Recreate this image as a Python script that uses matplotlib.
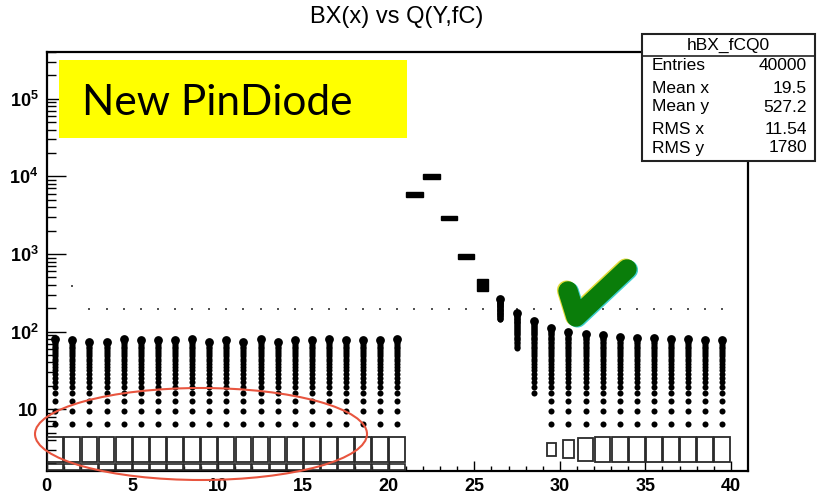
import numpy as np
import matplotlib.pyplot as plt
import matplotlib.patheffects as pe
from matplotlib.patches import Ellipse, Rectangle
from matplotlib.lines import Line2D
from matplotlib.ticker import FixedLocator, NullFormatter

plt.rcParams['font.family'] = ['Liberation Sans', 'DejaVu Sans']
plt.rcParams['mathtext.fontset'] = 'custom'
plt.rcParams['mathtext.rm'] = 'Liberation Sans'
plt.rcParams['mathtext.bf'] = 'Liberation Sans:bold'

# y binning of the charge axis (fC)
q_bin = 3.2

# columns of occupied charge bins: BX bin centre, lowest and highest charge (fC)
col_bx = [0.5, 1.5, 2.5, 3.5, 4.5, 5.5, 6.5, 7.5, 8.5, 9.5, 10.5,
          11.5, 12.5, 13.5, 14.5, 15.5, 16.5, 17.5, 18.5, 19.5, 20.5,
          26.5, 27.5, 28.5,
          29.5, 30.5, 31.5, 32.5, 33.5, 34.5, 35.5, 36.5, 37.5, 38.5, 39.5]
col_qlo = [6.4, 6.4, 6.4, 6.4, 6.4, 6.4, 6.4, 6.4, 6.4, 6.4, 6.4,
           6.4, 6.4, 6.4, 6.4, 6.4, 6.4, 6.4, 6.4, 6.4, 6.4,
           144, 60, 16,
           6.4, 6.4, 6.4, 6.4, 6.4, 6.4, 6.4, 6.4, 6.4, 6.4, 6.4]
col_qhi = [80, 77, 74, 74, 80, 77, 77, 77, 80, 74, 77,
           74, 80, 74, 77, 77, 80, 77, 77, 77, 80,
           266, 176, 138,
           112, 99, 92, 89, 86, 83, 83, 80, 80, 78, 78]

# lowest charge bin (pedestal) drawn as open boxes, relative content
box_bx = [0.5, 1.5, 2.5, 3.5, 4.5, 5.5, 6.5, 7.5, 8.5, 9.5, 10.5,
          11.5, 12.5, 13.5, 14.5, 15.5, 16.5, 17.5, 18.5, 19.5, 20.5,
          29.5, 30.5, 31.5, 32.5, 33.5, 34.5, 35.5, 36.5, 37.5, 38.5, 39.5]
box_fill = [1.0] * 21 + [0.55, 0.72, 0.95, 1.0, 1.0, 1.0, 1.0, 1.0, 1.0, 1.0, 1.0]
floor_bx = [0.5, 1.5, 2.5, 3.5, 4.5, 5.5, 6.5, 7.5, 8.5, 9.5, 10.5,
            11.5, 12.5, 13.5, 14.5, 15.5, 16.5, 17.5, 18.5, 19.5, 20.5]

# signal pulse: charge range of the filled cells per BX
peak_bx = [21.5, 22.5, 23.5, 24.5, 25.5]
peak_lo = [5400, 9200, 2750, 860, 330]
peak_hi = [6250, 10700, 3090, 990, 470]
peak_fill = [1.0, 1.0, 1.0, 1.0, 0.68]

# single entries
stray_bx = [1.5] + [2.5, 3.5, 4.5, 5.5, 6.5, 7.5, 8.5, 9.5, 10.5, 11.5, 12.5,
                    13.5, 14.5, 15.5, 16.5, 17.5, 18.5, 19.5, 20.5, 21.5, 22.5,
                    23.5, 24.5, 25.5, 27.5, 28.5, 29.5, 30.5, 31.5, 32.5, 33.5,
                    34.5, 35.5, 36.5, 37.5, 38.5, 39.5]
stray_q = [390] + [197] * 37

stats_rows = [("Entries", "40000"), ("Mean x", "19.5"), ("Mean y", "527.2"),
              ("RMS x", "11.54"), ("RMS y", "1780")]

W, H = 817, 496
fig = plt.figure(figsize=(W / 100, H / 100), dpi=100)
ax = fig.add_axes([46.7 / W, 1 - 471 / H, (748 - 46.7) / W, (471 - 52) / H])
ax.set_yscale('log')
ax.set_xlim(0, 41)
ax.set_ylim(1.6, 4.0e5)

# dotted columns of occupied bins
for x, qlo, qhi in zip(col_bx, col_qlo, col_qhi):
    k = np.arange(round(qlo / q_bin), round(qhi / q_bin) + 1)
    q = k * q_bin
    ax.scatter(np.full(len(q), x), q, s=19, marker='o', color='black', lw=0, zorder=3)
    ax.scatter([x], [q[-1]], s=40, marker='o', color='black', lw=0, zorder=3)

# pedestal boxes
c = np.log10(3.03)
for x, f in zip(box_bx, box_fill):
    lo, hi = 10 ** (c - 0.161 * f), 10 ** (c + 0.161 * f)
    ax.bar(x, hi - lo, bottom=lo, width=0.92 * f, fill=False,
           edgecolor='#2a2a2a', linewidth=1.3, zorder=3)
ax.bar(floor_bx, [1.97 - 1.66] * len(floor_bx), bottom=1.66, width=0.94,
       fill=False, edgecolor='#2a2a2a', linewidth=1.2, zorder=3)

# pulse cells
for x, lo, hi, f in zip(peak_bx, peak_lo, peak_hi, peak_fill):
    ax.bar(x, hi - lo, bottom=lo, width=0.95 * f, color='black',
           edgecolor='black', linewidth=1.0, zorder=3)

ax.scatter(stray_bx, stray_q, s=3.5, marker='s', color='#555555', lw=0, zorder=2)

# axes in ROOT style
for sp in ax.spines.values():
    sp.set_linewidth(1.6)
ax.set_xticks([0, 5, 10, 15, 20, 25, 30, 35, 40])
ax.xaxis.set_minor_locator(FixedLocator(range(0, 41)))
ax.set_yticks([10, 1e2, 1e3, 1e4, 1e5])
ax.set_yticklabels(['10', r'$\mathbf{10^{2}}$', r'$\mathbf{10^{3}}$',
                    r'$\mathbf{10^{4}}$', r'$\mathbf{10^{5}}$'])
ax.yaxis.set_minor_locator(FixedLocator(
    [m * 10 ** e for e in range(0, 6) for m in range(2, 10) if 1.6 <= m * 10 ** e <= 4e5]))
ax.yaxis.set_minor_formatter(NullFormatter())
ax.tick_params(axis='x', which='major', direction='in', length=7, width=1.0,
               pad=5, labelsize=13, top=False)
ax.tick_params(axis='x', which='minor', direction='in', length=3.6, width=1.0, top=False)
ax.tick_params(axis='y', which='major', direction='in', length=13.5, width=1.0,
               pad=6, labelsize=13, right=False)
ax.tick_params(axis='y', which='minor', direction='in', length=6.5, width=1.0, right=False)
for lab in ax.get_xticklabels() + ax.get_yticklabels():
    lab.set_fontweight('bold')

fig.text(397 / W, 1 - 17 / H, "BX(x) vs Q(Y,fC)", ha='center', va='center', fontsize=17)

# statistics box
fig.add_artist(Rectangle((642 / W, 1 - 161 / H), (815 - 642) / W, (161 - 34) / H,
                         transform=fig.transFigure, facecolor='white',
                         edgecolor='#222222', lw=1.5, zorder=10))
fig.add_artist(Line2D([642 / W, 815 / W], [1 - 56 / H, 1 - 56 / H],
                      transform=fig.transFigure, color='#222222', lw=1.2, zorder=11))
fig.text(728.5 / W, 1 - 45 / H, "hBX_fCQ0", ha='center', va='center', fontsize=12.5, zorder=12)
for (name, val), y in zip(stats_rows, [66, 88, 107, 130, 148]):
    fig.text(652 / W, 1 - y / H, name, ha='left', va='center', fontsize=12.5, zorder=12)
    fig.text(807 / W, 1 - y / H, val, ha='right', va='center', fontsize=12.5, zorder=12)

# label banner
fig.add_artist(Rectangle((59 / W, 1 - 138 / H), (407 - 59) / W, (138 - 60) / H,
                         transform=fig.transFigure, facecolor='#ffff00',
                         edgecolor='none', zorder=8))
fig.text(82 / W, 1 - 103 / H, "New PinDiode", ha='left', va='center',
         fontsize=30.5, family=['Lato', 'DejaVu Sans'], zorder=9)

# highlight ring around the pedestal region
fig.add_artist(Ellipse((201 / W, 1 - 434 / H), 332 / W, 92 / H, transform=fig.transFigure,
                       fill=False, edgecolor='#e8553f', lw=1.5, zorder=8))

# check mark
tick_x = [568 / W, 576 / W, 627 / W]
tick_y = [1 - 291 / H, 1 - 317 / H, 1 - 269 / H]
fig.add_artist(Line2D(tick_x, tick_y, transform=fig.transFigure, color='#0a7d0a', lw=14,
                      solid_capstyle='round', solid_joinstyle='round', zorder=9,
                      path_effects=[pe.Stroke(linewidth=14, foreground='#e2dc3a', offset=(-1, 0.6)),
                                    pe.Stroke(linewidth=14, foreground='#40d0d0', offset=(1, -0.6)),
                                    pe.Normal()]))

fig.savefig("out.png", dpi=100)
